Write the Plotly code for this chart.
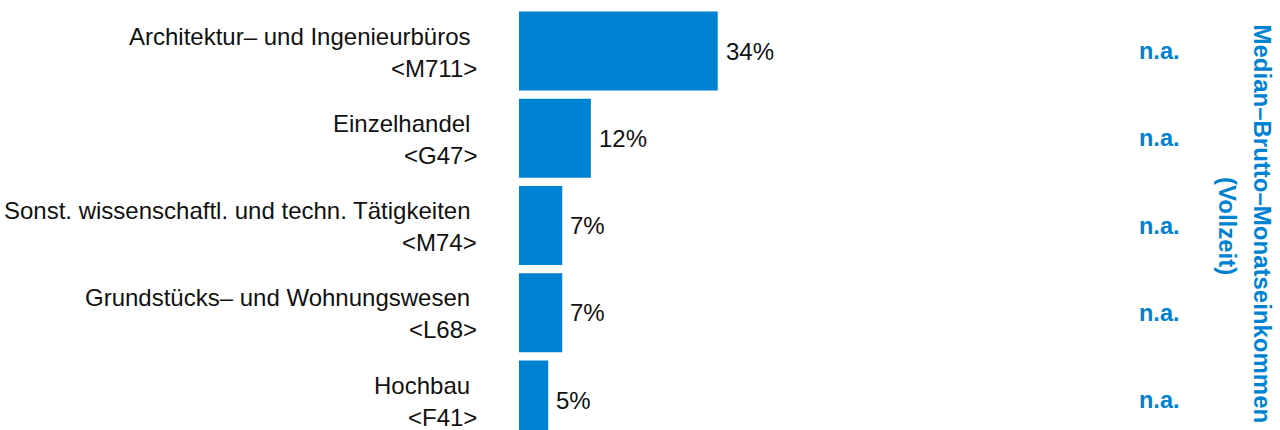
import plotly.graph_objects as go

categories = [
    "Architektur– und Ingenieurbüros",
    "Einzelhandel",
    "Sonst. wissenschaftl. und techn. Tätigkeiten",
    "Grundstücks– und Wohnungswesen",
    "Hochbau",
]
codes = ["<M711>", "<G47>", "<M74>", "<L68>", "<F41>"]
shares = [34.0, 12.3, 7.4, 7.4, 5.0]
share_labels = ["34%", "12%", "7%", "7%", "5%"]
income_labels = ["n.a.", "n.a.", "n.a.", "n.a.", "n.a."]
right_title = ["Median–Brutto–Monatseinkommen", "(Vollzeit)"]

BLUE = "#0082D2"
FONT = "Liberation Sans, Arial, sans-serif"
FS = 24
TXT = "#111111"

W, H = 1280, 430

positions = list(range(len(categories)))

fig = go.Figure()
fig.add_trace(go.Bar(
    x=shares, y=positions, orientation="h",
    marker=dict(color=BLUE, line=dict(width=0)),
    width=0.905, hoverinfo="skip",
))

ann = []
for i, (cat, code, lab, inc) in enumerate(zip(categories, codes, share_labels, income_labels)):
    ann.append(dict(x=0, y=i, xref="x", yref="y", text=cat + "\u00a0",
                    xanchor="right", yanchor="middle", xshift=-40, yshift=15,
                    showarrow=False, font=dict(size=FS, color=TXT, family=FONT)))
    ann.append(dict(x=0, y=i, xref="x", yref="y", text=code.replace("<", "&lt;").replace(">", "&gt;"),
                    xanchor="right", yanchor="middle", xshift=-40, yshift=-17,
                    showarrow=False, font=dict(size=FS, color=TXT, family=FONT)))
    ann.append(dict(x=shares[i], y=i, xref="x", yref="y", text=lab,
                    xanchor="left", yanchor="middle", xshift=6,
                    showarrow=False, font=dict(size=FS, color=TXT, family=FONT)))
    ann.append(dict(x=1, y=i, xref="paper", yref="y", text="<b>" + inc + "</b>",
                    xanchor="center", yanchor="middle", xshift=-121, yshift=0,
                    showarrow=False, font=dict(size=23.5, color=BLUE, family=FONT)))

ann.append(dict(x=1, y=1 - 223.5 / H, xref="paper", yref="paper", text="<b>" + right_title[0] + "</b>",
                textangle=90, xanchor="center", yanchor="middle", xshift=-18,
                showarrow=False, font=dict(size=FS, color=BLUE, family=FONT)))
ann.append(dict(x=1, y=1 - 226 / H, xref="paper", yref="paper", text="<b>" + right_title[1] + "</b>",
                textangle=90, xanchor="center", yanchor="middle", xshift=-52,
                showarrow=False, font=dict(size=FS, color=BLUE, family=FONT)))

px_per_unit = 198.7 / 34.0
left = 519
plot_w = W - left
first_center = 51
pitch = 87.25
fig.update_layout(
    width=W, height=H,
    margin=dict(l=left, r=0, t=0, b=0),
    paper_bgcolor="white", plot_bgcolor="white",
    showlegend=False,
    xaxis=dict(range=[0, plot_w / px_per_unit], visible=False, fixedrange=True),
    yaxis=dict(range=[(H - first_center) / pitch, -first_center / pitch], visible=False, fixedrange=True),
    annotations=ann,
    font=dict(family=FONT),
)

fig.write_html("out.html", config={"displayModeBar": False},
               post_script="document.body.style.margin='0';document.body.style.overflow='hidden';")
